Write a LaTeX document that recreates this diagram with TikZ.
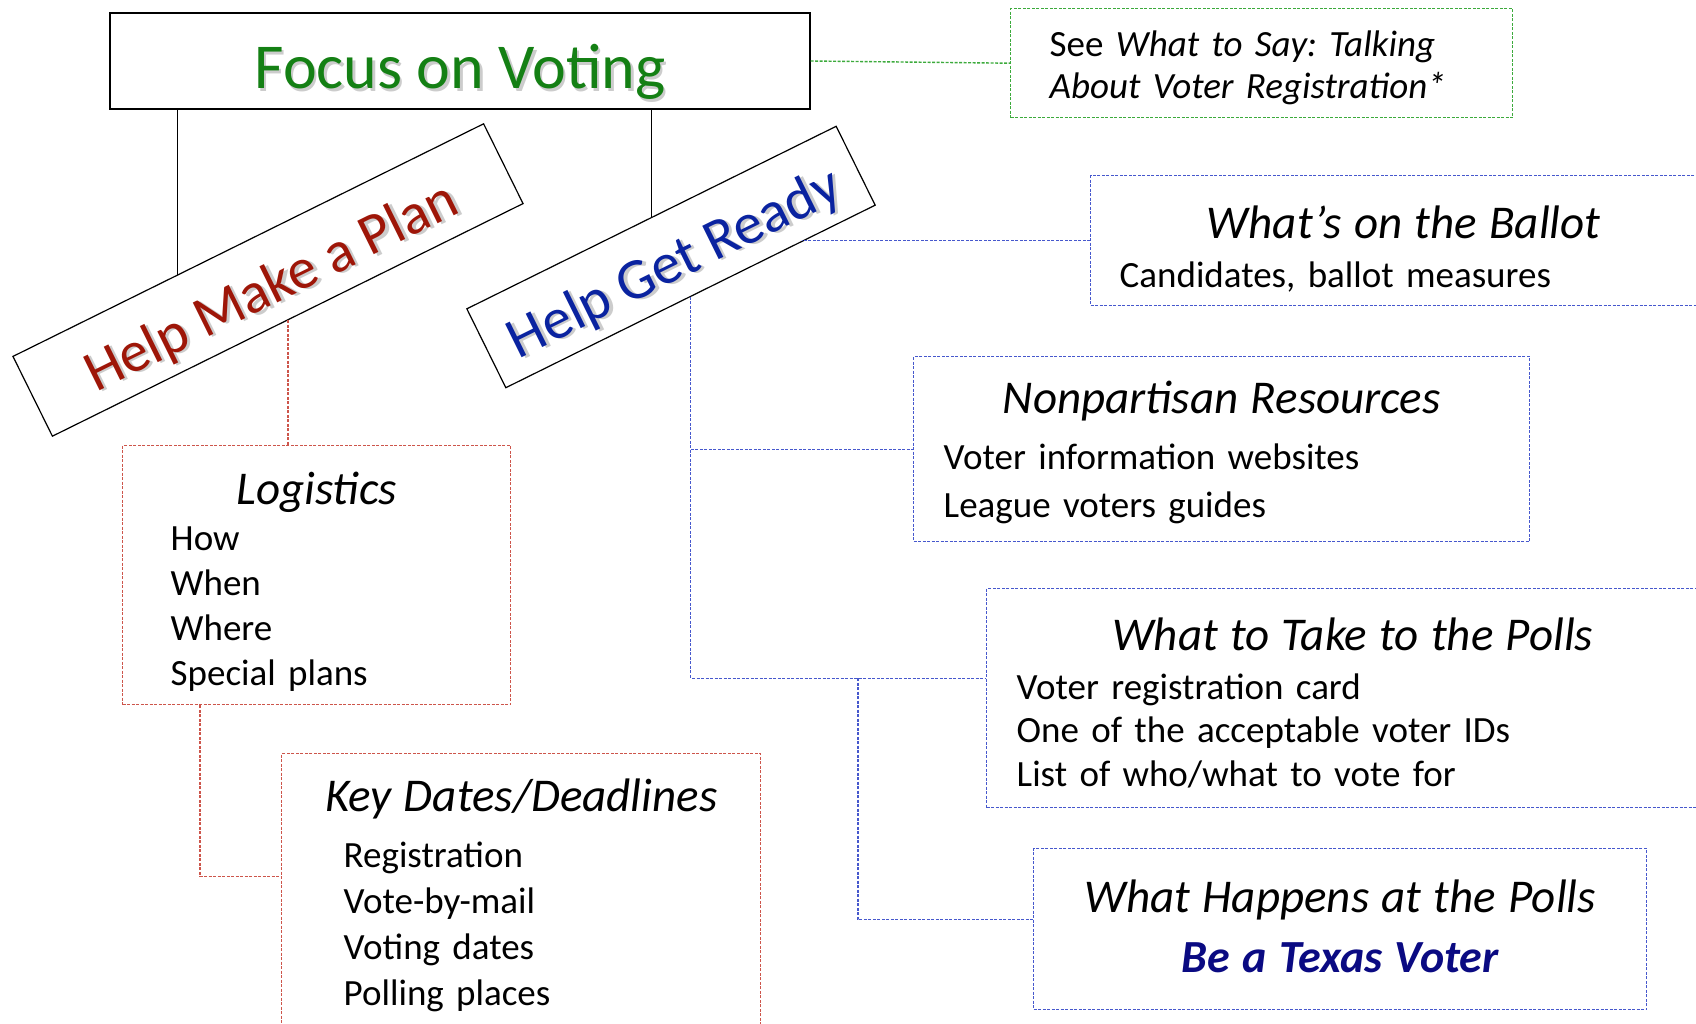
\documentclass[tikz,border=0pt]{standalone}
\usepackage{fontspec}
\setmainfont{Carlito}
\usetikzlibrary{positioning,calc}
\frenchspacing

\definecolor{focusgreen}{RGB}{20,128,20}
\definecolor{planred}{RGB}{158,22,8}
\definecolor{readyblue}{RGB}{10,35,160}
\definecolor{texasblue}{RGB}{10,10,130}
\definecolor{linegreen}{RGB}{60,170,60}
\definecolor{linered}{RGB}{205,85,75}
\definecolor{lineblue}{RGB}{70,88,205}

\newcommand{\shadowtext}[2]{\makebox[0pt][l]{\hspace{2.5pt}\raisebox{-2.5pt}{\textcolor{black!20}{#2}}}\textcolor{#1}{#2}}
\newcommand{\headfont}{\fontsize{47}{47}\selectfont\itshape}
\newcommand{\trimbottom}[1]{\par\vspace{-#1}\hrule height 0pt}

\begin{document}
\begin{tikzpicture}[x=1pt, y=-1pt,
    topbox/.style={rectangle, draw, line width=1.2pt, inner sep=0pt},
    infobox/.style={rectangle, dash pattern=on 3pt off 1.5pt, line width=1.4pt, anchor=north west, align=left, inner ysep=0pt},
    greenline/.style={draw=linegreen, dash pattern=on 3pt off 1.5pt, line width=1.4pt},
    redline/.style={draw=linered, dash pattern=on 3pt off 1.5pt, line width=1.4pt},
    blueline/.style={draw=lineblue, dash pattern=on 3pt off 1.5pt, line width=1.4pt}]
    \useasboundingbox (0,0) rectangle (1696,1024);
    \clip (0,0) rectangle (1696,1024);

    \node[topbox, minimum width=700pt, minimum height=96pt, text height=56pt, text depth=0pt, font=\fontsize{64}{64}\selectfont] (focus) at (460,61) {\shadowtext{focusgreen}{Focus on Voting}};
    \node[topbox, fill=white, minimum width=525pt, minimum height=89pt, text height=50pt, text depth=0pt, rotate=26.3, font=\fontsize{58}{58}\selectfont] (hmp) at (268,280) {\shadowtext{planred}{Help Make a Plan}};
    \node[topbox, fill=white, minimum width=412pt, minimum height=88pt, text height=48pt, text depth=0pt, rotate=26.3, font=\fontsize{58}{58}\selectfont] (hgr) at (671,257) {\shadowtext{readyblue}{Help Get Ready}};

    \node[infobox, draw=linegreen, text width=424pt, inner xsep=39pt, minimum height=109pt, font=\fontsize{37}{42}\selectfont] (see) at (1010,8) {See \textit{What to Say: Talking}\\ \textit{About Voter Registration*}\trimbottom{9pt}};
    \node[infobox, draw=lineblue, text width=568pt, inner xsep=29pt, minimum height=130pt, font=\fontsize{37}{44}\selectfont] (ballot) at (1090,175) {\makebox[\linewidth]{\headfont What’s on the Ballot}\\[5pt] Candidates, ballot measures\trimbottom{17pt}};
    \node[infobox, draw=lineblue, text width=556pt, inner xsep=30pt, minimum height=185pt, font=\fontsize{37}{48}\selectfont] (nonpart) at (913,356) {\makebox[\linewidth]{\headfont Nonpartisan Resources}\\[8pt] Voter information websites\\ League voters guides\trimbottom{7pt}};
    \node[infobox, draw=lineblue, text width=672pt, inner xsep=30pt, minimum height=219pt, font=\fontsize{37}{43.5}\selectfont] (polls) at (986,588) {\makebox[\linewidth]{\headfont What to Take to the Polls}\\[5.5pt] Voter registration card\\ One of the acceptable voter IDs\\ List of who/what to vote for\trimbottom{9pt}};
    \node[infobox, draw=lineblue, align=center, text width=553pt, inner xsep=30pt, minimum height=161pt, font=\fontsize{37}{46}\selectfont] (happens) at (1033,848) {{\headfont What Happens at the Polls}\\[14pt] {\fontsize{46}{46}\selectfont\bfseries\itshape\color{texasblue}Be a Texas Voter}\trimbottom{-6pt}};
    \node[infobox, draw=linered, text width=292pt, inner xsep=48pt, minimum height=259pt, font=\fontsize{37}{45}\selectfont] (logistics) at (122,445) {\makebox[\linewidth]{\headfont Logistics}\\[1pt] How\\ When\\ Where\\ Special plans\trimbottom{13pt}};
    \node[infobox, draw=linered, text width=355pt, inner xsep=62pt, minimum height=274pt, font=\fontsize{37}{46}\selectfont] (keydates) at (281,753) {\makebox[\linewidth]{\headfont Key Dates/Deadlines}\\[10pt] Registration\\ Vote-by-mail\\ Voting dates\\ Polling places\trimbottom{9pt}};

    \coordinate (hmptop) at ($(hmp.north west)!0.35!(hmp.north east)$);
    \coordinate (hgrout) at ($(hgr.south east)!0.2!(hgr.south west)$);
    \coordinate (logout) at ($(logistics.south west)!0.2!(logistics.south east)$);
    \coordinate (keyin) at ([yshift=14pt]keydates.west);
    \coordinate (pollsin) at ([yshift=20pt]polls.west);
    \coordinate (happensin) at ([yshift=9.5pt]happens.west);
    \coordinate (hapjoin) at ($(hgr.south |- pollsin)!0.566!(pollsin)$);

    \draw[line width=1pt] (focus.south -| hmptop) -- (hmptop);
    \draw[line width=1pt] (focus.south -| hgr.north) -- (hgr.north);
    \draw[greenline] (focus.east) -- (see.west);
    \draw[redline] (hmp.south) -- (hmp.south |- logistics.north);
    \draw[redline] (logout) |- (keyin);
    \draw[blueline] (ballot.west) -- (ballot.west -| hgrout);
    \draw[blueline] (hgr.south) -- (hgr.south |- pollsin) -- (pollsin);
    \draw[blueline] (hgr.south |- nonpart.west) -- (nonpart.west);
    \draw[blueline] (hapjoin) |- (happensin);
\end{tikzpicture}
\end{document}
